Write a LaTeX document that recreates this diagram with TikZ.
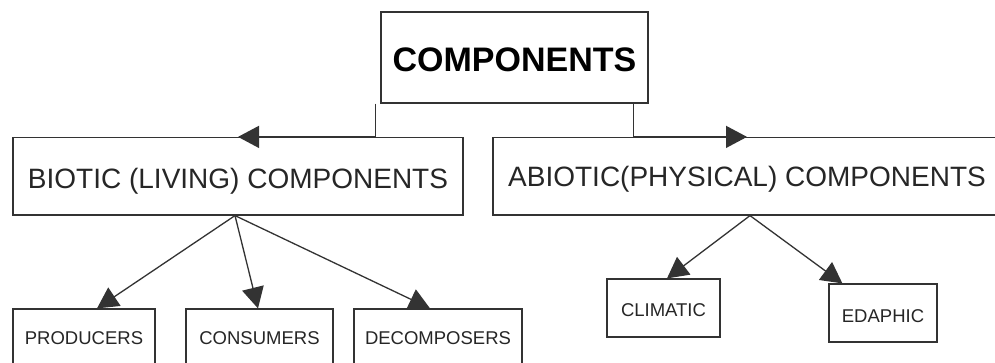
\documentclass[tikz,border=0pt]{standalone}
\usepackage{fontspec}
\setmainfont{Liberation Sans}
\usetikzlibrary{arrows.meta}
\tikzset{
  box/.style={draw=black!80, line width=1.2pt, inner sep=0pt, rectangle, text=black!85, text depth=0pt},
  bigfont/.style={font=\fontsize{28}{30}\selectfont},
  smallfont/.style={font=\fontsize{18.5}{20}\selectfont},
  arr/.style={draw=black!80, line width=1.3pt, -{Triangle[length=21pt,width=22pt]}},
  conn/.style={draw=black!80, line width=1.3pt}
}
\begin{document}
\begin{tikzpicture}[x=1pt,y=-1pt]
\useasboundingbox (0,0) rectangle (995,363);
\clip (0,0) rectangle (995,363);
\fill[white] (0,0) rectangle (995,363);
\node[box, minimum width=267pt, minimum height=91pt, font=\fontsize{34}{36}\selectfont\bfseries, text=black, text height=28pt] (comp) at (514.5,57.5) {COMPONENTS};
\node[box, bigfont, minimum width=450pt, minimum height=77.5pt, text height=25pt] (biotic) at (238,176.25) {BIOTIC (LIVING) COMPONENTS};
\node[box, bigfont, minimum width=508pt, minimum height=77.5pt, text height=21.5pt] (abiotic) at (747,176.25) {ABIOTIC(PHYSICAL) COMPONENTS};
\node[box, smallfont, minimum width=142pt, minimum height=58pt, text height=13.2pt] (producers) at (84,338) {PRODUCERS};
\node[box, smallfont, minimum width=147pt, minimum height=58pt, text height=13.2pt] (consumers) at (259.5,338) {CONSUMERS};
\node[box, smallfont, minimum width=168pt, minimum height=58pt, text height=13.2pt] (decomposers) at (438,338) {DECOMPOSERS};
\node[box, smallfont, minimum width=113pt, minimum height=58pt, text height=17.2pt] (climatic) at (663.5,308) {CLIMATIC};
\node[box, smallfont, minimum width=108pt, minimum height=58pt, text height=19.2pt] (edaphic) at (883,313) {EDAPHIC};
\draw[arr] ([xshift=-5pt]comp.south west) |- (biotic.north);
\draw[arr] ([xshift=-15pt]comp.south east) |- (abiotic.north);
\draw[arr] ([xshift=-3pt]biotic.south) -- ([xshift=13pt]producers.north);
\draw[arr] ([xshift=-3pt]biotic.south) -- ([xshift=-1.5pt]consumers.north);
\draw[arr] ([xshift=-3pt]biotic.south) -- ([xshift=-8pt]decomposers.north);
\draw[arr] ([xshift=3pt]abiotic.south) -- ([xshift=3.5pt]climatic.north);
\draw[arr] ([xshift=3pt]abiotic.south) -- ([xshift=14pt]edaphic.north west);
\end{tikzpicture}
\end{document}
